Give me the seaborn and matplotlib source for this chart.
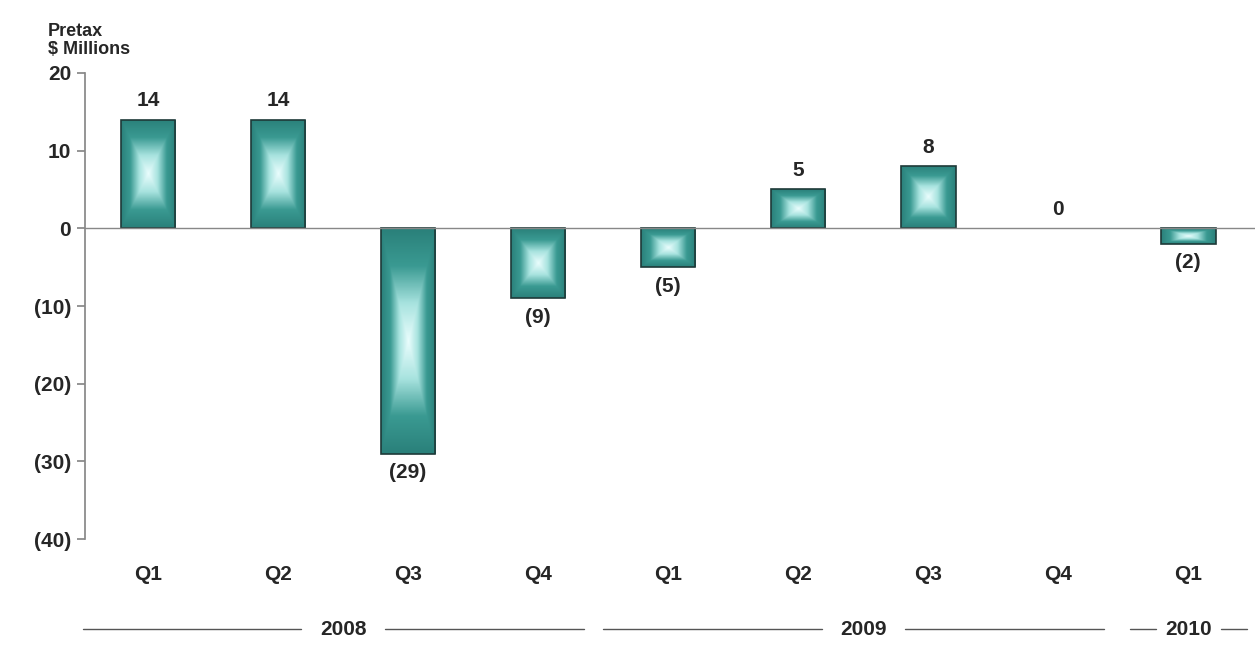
import matplotlib
matplotlib.use("Agg")
import matplotlib.pyplot as plt
import seaborn as sns
import numpy as np
import pandas as pd
from matplotlib.colors import LinearSegmentedColormap

quarters = ["Q1", "Q2", "Q3", "Q4", "Q1", "Q2", "Q3", "Q4", "Q1"]
values = [14, 14, -29, -9, -5, 5, 8, 0, -2]
value_labels = ["14", "14", "(29)", "(9)", "(5)", "5", "8", "0", "(2)"]
years = ["2008", "2009", "2010"]
year_spans = [(0, 3), (4, 7), (8, 8)]
yticks = [20, 10, 0, -10, -20, -30, -40]
ytick_labels = ["20", "10", "0", "(10)", "(20)", "(30)", "(40)"]

sns.set_theme(style="white")
plt.rcParams["font.family"] = ["Liberation Sans", "DejaVu Sans"]
plt.rcParams["font.weight"] = "bold"

fig = plt.figure(figsize=(12.59, 6.45), dpi=100)
ax = fig.add_axes([0.0675, 0.164, 0.9295, 0.723])
df = pd.DataFrame({"x": range(len(values)), "v": values})
sns.barplot(data=df, x="x", y="v", color="#3a9a92", width=0.42,
            edgecolor="#1e3a38", linewidth=1.2, ax=ax, native_scale=True)

cmap = LinearSegmentedColormap.from_list("p", ["#eafdfd", "#a8e3df", "#3a9a92", "#2a807a"])
g = np.linspace(-1, 1, 200)
X, Y = np.meshgrid(g, g)
Z = np.maximum(np.abs(X), np.abs(Y))
for p in ax.patches:
    x0, y0, w, h = p.get_x(), p.get_y(), p.get_width(), p.get_height()
    if h == 0:
        p.set_visible(False)
        continue
    ext = [x0, x0 + w, min(y0, y0 + h), max(y0, y0 + h)]
    im = ax.imshow(Z, cmap=cmap, extent=ext, aspect="auto", zorder=p.get_zorder() + 0.1, vmin=0, vmax=1)
    im.set_clip_path(p)
    p.set_facecolor("none")
    p.set_zorder(p.get_zorder() + 0.2)

ax.set_xlim(-0.485, 8.515)
ax.set_ylim(-40, 20)
ax.set_yticks(yticks)
ax.set_yticklabels(ytick_labels, fontsize=15, fontweight="bold")
ax.set_xticks([])
ax.set_xlabel("")
ax.set_ylabel("")
for s in ["top", "right", "bottom"]:
    ax.spines[s].set_visible(False)
ax.spines["left"].set_color("#888888")
ax.tick_params(axis="y", length=6, color="#888888", direction="out", left=True, pad=4)
ax.axhline(0, color="#888888", lw=1, zorder=5)

for i, (v, lab) in enumerate(zip(values, value_labels)):
    if v >= 0:
        ax.text(i, v + 1.2, lab, ha="center", va="bottom", fontsize=15, fontweight="bold")
    else:
        ax.text(i, v - 1.2, lab, ha="center", va="top", fontsize=15, fontweight="bold")

for i, q in enumerate(quarters):
    ax.text(i, -44.5, q, ha="center", va="center", fontsize=15, fontweight="bold", clip_on=False)

for yr, (a, b) in zip(years, year_spans):
    c = (a + b) / 2
    if a == b:
        l, r, half = c - 0.45, c + 0.45, 0.25
    else:
        l, r, half = a - 0.5, b + 0.35, 0.32
    yy = -51.6
    ax.plot([l, c - half], [yy, yy], color="#555555", lw=1, clip_on=False)
    ax.plot([c + half, r], [yy, yy], color="#555555", lw=1, clip_on=False)
    ax.text(c, yy, yr, ha="center", va="center", fontsize=15, fontweight="bold", clip_on=False)

fig.text(0.038, 0.965, "Pretax\n$ Millions", ha="left", va="top", fontsize=13, fontweight="bold", linespacing=1.1)
fig.savefig("out.png", dpi=100)
